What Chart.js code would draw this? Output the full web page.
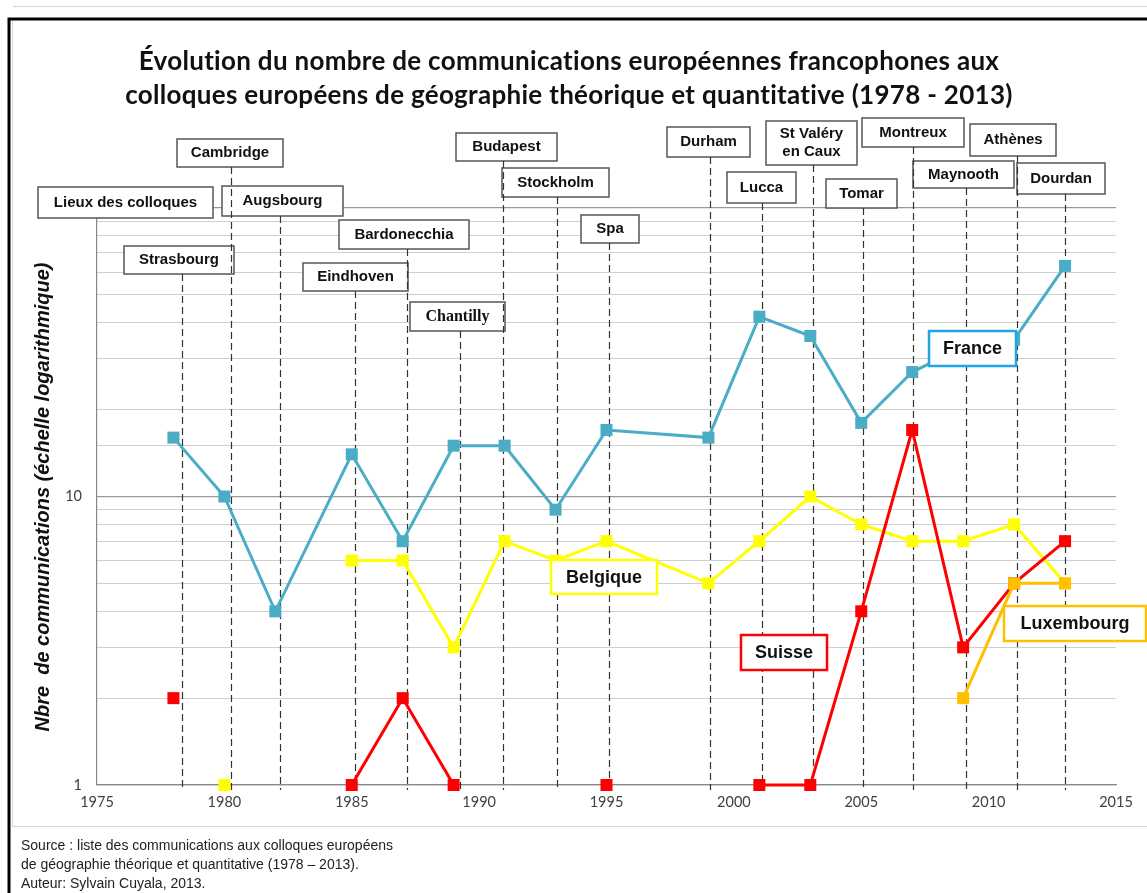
<!DOCTYPE html>
<html lang="fr">
<head>
<meta charset="utf-8">
<title>Colloques européens de géographie théorique et quantitative</title>
<script src="https://cdn.jsdelivr.net/npm/chart.js@4/dist/chart.umd.min.js"></script>
<style>
  html, body { margin: 0; padding: 0; background: #fff; }
  #wrap { width: 1147px; height: 893px; position: relative; }
</style>
</head>
<body>
<div id="wrap"><canvas id="chart" width="1147" height="893"></canvas></div>
<script>
// years of the colloques (one point per colloque)
const years = [1978, 1980, 1982, 1985, 1987, 1989, 1991, 1993, 1995, 1999, 2001, 2003, 2005, 2007, 2009, 2011, 2013];

// number of communications per country, null = none
const france     = [16, 10, 4, 14, 7, 15, 15, 9, 17, 16, 42, 36, 18, 27, 33, 35, 63];
const belgique   = [null, 1, null, 6, 6, 3, 7, 6, 7, 5, 7, 10, 8, 7, 7, 8, 5];
const suisse     = [2, null, null, 1, 2, 1, null, null, 1, null, 1, 1, 4, 17, 3, 5, 7];
const luxembourg = [null, null, null, null, null, null, null, null, null, null, null, null, null, null, 2, 5, 5];

// place of each colloque
const places = ['Strasbourg', 'Cambridge', 'Augsbourg', 'Eindhoven', 'Bardonecchia', 'Chantilly',
  'Budapest', 'Stockholm', 'Spa', 'Durham', 'Lucca', 'St Valéry\nen Caux', 'Tomar',
  'Montreux', 'Maynooth', 'Athènes', 'Dourdan'];

const xTicks = [1975, 1980, 1985, 1990, 1995, 2000, 2005, 2010, 2015];
const yTicks = [1, 10, 100];

// label boxes for the places: left, top, right, bottom, shift of the dashed line (years)
const placeBoxes = [
  [124, 246, 234, 274, 0.33], [177, 139, 283, 167, 0.27], [222, 186, 343, 216, 0.2],
  [303, 263, 408, 291, 0.13], [339, 220, 469, 249, 0.15], [410, 302, 505, 331, 0.25],
  [456, 133, 557, 161, -0.05], [502, 168, 609, 197, 0.05], [581, 215, 639, 243, 0.1],
  [667, 127, 750, 157, 0.05], [727, 172, 796, 203, 0.1], [766, 121, 857, 165, 0.1],
  [826, 179, 897, 208, 0.06], [862, 118, 964, 147, 0.05], [913, 161, 1014, 188, 0.1],
  [970, 124, 1056, 156, 0.1], [1017, 163, 1105, 194, 0.0]
];

// country name boxes
const seriesBoxes = [
  { text: 'France', color: '#1ea7e1', box: [929, 331, 1016, 366] },
  { text: 'Belgique', color: '#ffff00', box: [551, 560, 657, 594] },
  { text: 'Suisse', color: '#ff0000', box: [741, 635, 827, 670] },
  { text: 'Luxembourg', color: '#ffc000', box: [1004, 606, 1146, 641] }
];

const pts = vals => years.map((yr, i) => ({ x: yr, y: vals[i] }));

function serie(label, vals, color, order) {
  return {
    label: label,
    data: pts(vals),
    borderColor: color,
    backgroundColor: color,
    borderWidth: 3,
    pointStyle: 'rect',
    pointRadius: 8.5,
    pointBorderWidth: 0,
    spanGaps: false,
    clip: false,
    order: order
  };
}

function box(ctx, b, stroke, width) {
  ctx.fillStyle = '#fff';
  ctx.fillRect(b[0], b[1], b[2] - b[0], b[3] - b[1]);
  ctx.strokeStyle = stroke;
  ctx.lineWidth = width;
  ctx.strokeRect(b[0], b[1], b[2] - b[0], b[3] - b[1]);
}

const decor = {
  id: 'decor',
  beforeDraw(chart) {
    const ctx = chart.ctx;
    ctx.save();
    ctx.fillStyle = '#fff';
    ctx.fillRect(0, 0, chart.width, chart.height);
    // outer frames
    ctx.strokeStyle = '#d4d4d4';
    ctx.lineWidth = 1;
    ctx.beginPath();
    ctx.moveTo(13, 6.5); ctx.lineTo(1147, 6.5);
    ctx.moveTo(12.5, 20); ctx.lineTo(12.5, 826);
    ctx.moveTo(12, 826.5); ctx.lineTo(1147, 826.5);
    ctx.stroke();
    ctx.strokeStyle = '#000';
    ctx.lineWidth = 3;
    ctx.beginPath();
    ctx.moveTo(9, 893); ctx.lineTo(9, 19); ctx.lineTo(1147, 19);
    ctx.stroke();
    ctx.restore();
  },
  beforeDatasetsDraw(chart) {
    const ctx = chart.ctx;
    const xs = chart.scales.x;
    ctx.save();
    ctx.textAlign = 'center';
    ctx.textBaseline = 'middle';
    // "Lieux des colloques"
    box(ctx, [38, 187, 213, 218], '#555', 1.5);
    ctx.fillStyle = '#111';
    ctx.font = 'bold 15px "Liberation Sans", Arial, sans-serif';
    ctx.fillText('Lieux des colloques', 125.5, 203);
    // place boxes
    placeBoxes.forEach((b, i) => {
      box(ctx, b, '#555', 1.5);
      ctx.fillStyle = '#111';
      ctx.font = places[i] === 'Chantilly'
        ? 'bold 16px "Liberation Serif", "Times New Roman", serif'
        : 'bold 15px "Liberation Sans", Arial, sans-serif';
      const lines = places[i].split('\n');
      const cx = (b[0] + b[2]) / 2;
      const cy = (b[1] + b[3]) / 2;
      lines.forEach((t, k) => ctx.fillText(t, cx, cy + (k - (lines.length - 1) / 2) * 18));
    });
    // dashed lines from the boxes to the axis
    ctx.strokeStyle = '#333';
    ctx.lineWidth = 1.2;
    ctx.setLineDash([7, 4]);
    placeBoxes.forEach((b, i) => {
      const px = Math.round(xs.getPixelForValue(years[i] + b[4])) + 0.5;
      ctx.beginPath();
      ctx.moveTo(px, b[3]);
      ctx.lineTo(px, chart.chartArea.bottom + 5);
      ctx.stroke();
    });
    ctx.restore();
  },
  afterDatasetsDraw(chart) {
    const ctx = chart.ctx;
    ctx.save();
    ctx.textAlign = 'center';
    ctx.textBaseline = 'middle';
    seriesBoxes.forEach(s => {
      box(ctx, s.box, s.color, 2.5);
      ctx.fillStyle = '#111';
      ctx.font = 'bold 18px "Liberation Sans", Arial, sans-serif';
      ctx.fillText(s.text, (s.box[0] + s.box[2]) / 2, (s.box[1] + s.box[3]) / 2 + 1);
    });
    ctx.restore();
  },
  afterDraw(chart) {
    const ctx = chart.ctx;
    ctx.save();
    // title (small letter spacing keeps "ti" from turning into a ligature)
    ctx.fillStyle = '#111';
    ctx.textAlign = 'center';
    ctx.textBaseline = 'middle';
    ctx.font = 'bold 26px Lato, "Open Sans", sans-serif';
    ctx.letterSpacing = '0.3px';
    ctx.fillText('Évolution du nombre de communications européennes francophones aux', 569, 62);
    ctx.fillText('colloques européens de géographie théorique et quantitative (1978 - 2013)', 569, 96);
    ctx.letterSpacing = '0px';
    // y axis title
    ctx.save();
    ctx.translate(43, 497);
    ctx.rotate(-Math.PI / 2);
    ctx.font = 'italic bold 20px "Liberation Sans", Arial, sans-serif';
    ctx.fillText('Nbre  de communications (échelle logarithmique)', 0, 0);
    ctx.restore();
    // source
    ctx.textAlign = 'left';
    ctx.textBaseline = 'alphabetic';
    ctx.fillStyle = '#222';
    ctx.font = '14px "Liberation Sans", Arial, sans-serif';
    ctx.fillText('Source : liste des communications aux colloques européens', 21, 850);
    ctx.fillText('de géographie théorique et quantitative (1978 – 2013).', 21, 869);
    ctx.fillText('Auteur: Sylvain Cuyala, 2013.', 21, 888);
    ctx.restore();
  }
};

new Chart(document.getElementById('chart'), {
  type: 'line',
  data: {
    datasets: [
      serie('France', france, '#4bacc6', 4),
      serie('Belgique', belgique, '#ffff00', 3),
      serie('Suisse', suisse, '#ff0000', 2),
      serie('Luxembourg', luxembourg, '#ffc000', 1)
    ]
  },
  options: {
    responsive: false,
    animation: false,
    layout: { padding: { top: 208, right: 31, bottom: 67, left: 0 } },
    plugins: { legend: { display: false }, tooltip: { enabled: false }, title: { display: false } },
    scales: {
      x: {
        type: 'linear',
        min: 1975,
        max: 2015,
        afterFit: s => { s.height = 41; },
        afterBuildTicks: s => { s.ticks = xTicks.map(v => ({ value: v })); },
        grid: { display: false, drawTicks: false },
        border: { color: '#888', width: 1.2 },
        ticks: { color: '#404040', padding: 9, font: { family: 'Lato, sans-serif', size: 14.5 }, callback: v => String(v) }
      },
      y: {
        type: 'logarithmic',
        min: 1,
        max: 100,
        afterFit: s => { s.width = 97; },
        grid: {
          drawTicks: false,
          color: c => yTicks.includes(c.tick.value) ? '#9a9a9a' : '#cfcfcf',
          lineWidth: c => yTicks.includes(c.tick.value) ? 1.3 : 1
        },
        border: { color: '#888', width: 1.2 },
        ticks: {
          color: '#404040',
          padding: 15,
          font: { family: 'Lato, sans-serif', size: 14.5 },
          autoSkip: false,
          callback: v => yTicks.includes(v) ? String(v) : ''
        }
      }
    }
  },
  plugins: [decor]
});
</script>
</body>
</html>
